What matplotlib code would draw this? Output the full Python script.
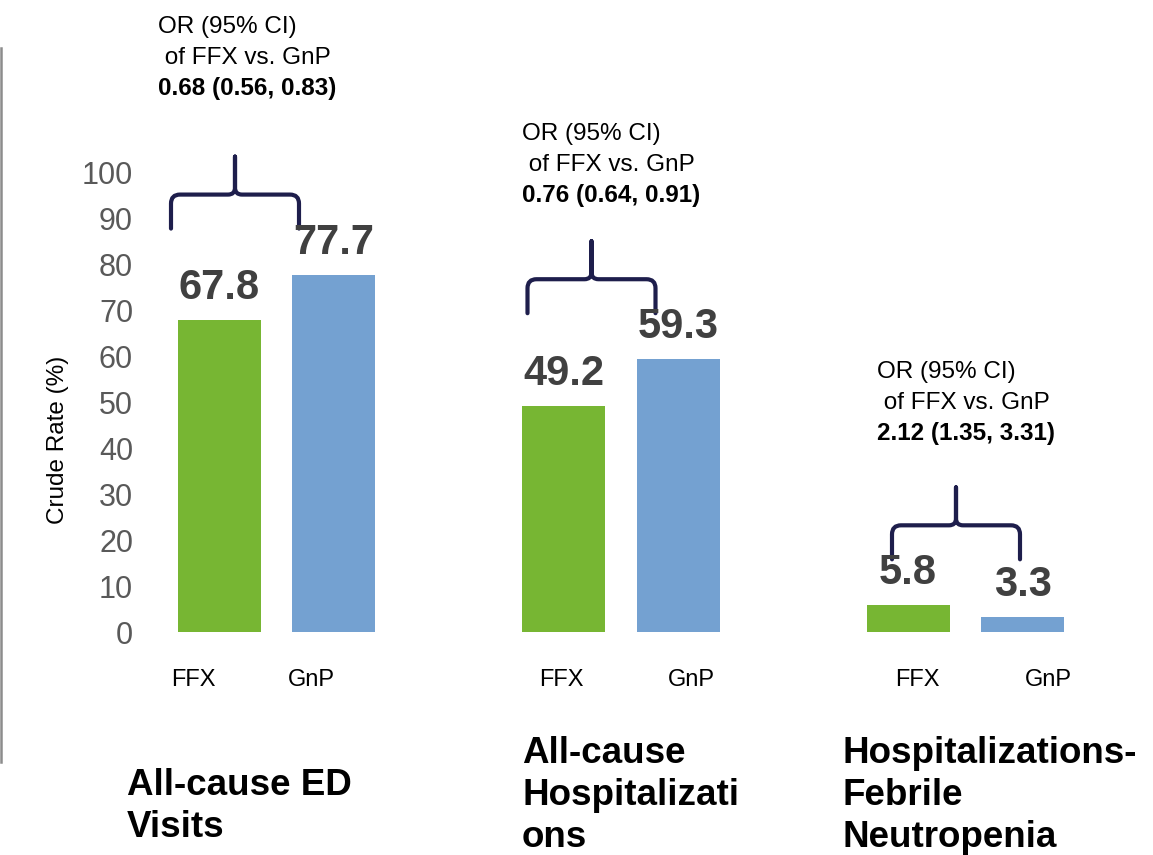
import numpy as np
import matplotlib
matplotlib.use('Agg')
import matplotlib.pyplot as plt
from matplotlib.path import Path
from matplotlib.patches import PathPatch
from matplotlib.lines import Line2D

plt.rcParams['font.family'] = ['Liberation Sans', 'DejaVu Sans']

# crude rates (%) per outcome and treatment arm
groups = ['All-cause ED\nVisits', 'All-cause\nHospitalizati\nons',
          'Hospitalizations-\nFebrile\nNeutropenia']
arms = ['FFX', 'GnP']
ffx_rate = [67.8, 49.2, 5.8]
gnp_rate = [77.7, 59.3, 3.3]
# odds ratio of FFX vs. GnP with 95% CI
odds_ratio = [0.68, 0.76, 2.12]
ci_low = [0.56, 0.64, 1.35]
ci_high = [0.83, 0.91, 3.31]

GREEN = '#77B633'
BLUE = '#74A1D1'
BRACE = '#1E1E4C'
VALUE_GRAY = '#404040'
TICK_GRAY = '#595959'

W, H = 1153, 855
fig = plt.figure(figsize=(W / 100, H / 100), dpi=100)

# plot box: x from 140px to the right edge, y=0 at 632px and y=100 at 172px
ax = fig.add_axes([140 / W, (H - 632) / H, (W - 140) / W, 460 / H])
px_x = 344.5 / 3   # pixels per x unit
px_y = 4.6         # pixels per percent
x_left = (140 - 276.5) / px_x
ax.set_xlim(x_left, x_left + (W - 140) / px_x)
ax.set_ylim(0, 100)

centers = np.arange(len(groups)) * 3.0
bar_w = 83 / px_x
ax.bar(centers - 0.5, ffx_rate, width=bar_w, color=GREEN)
ax.bar(centers + 0.5, gnp_rate, width=bar_w, color=BLUE)

# value labels on top of the bars
for xs, vals in ((centers - 0.5, ffx_rate), (centers + 0.5, gnp_rate)):
    for x, v in zip(xs, vals):
        ax.annotate(f'{v:.1f}', (x, v), xytext=(0, 15), textcoords='offset points',
                    ha='center', va='baseline', fontsize=30, fontweight='bold',
                    color=VALUE_GRAY)


def brace_path(xc, yb, half_w=64, h1=34, h2=72, r=9, s=7):
    '''Curly brace opening downwards; sizes are given in pixels.'''
    def pt(dx, dy):
        return (xc + dx / px_x, yb + dy / px_y)
    verts, codes = [], []
    for sign in (-1, 1):
        verts += [pt(sign * half_w, 0), pt(sign * half_w, h1 - r),
                  pt(sign * half_w, h1), pt(sign * (half_w - r), h1),
                  pt(sign * s, h1), pt(0, h1), pt(0, h1 + s), pt(0, h2)]
        codes += [Path.MOVETO, Path.LINETO, Path.CURVE3, Path.CURVE3,
                  Path.LINETO, Path.CURVE3, Path.CURVE3, Path.LINETO]
    return Path(verts, codes)


brace_shift = [-41.5, -29.5, -9.5]      # px from group centre
or_dx = [-1.032, -0.862, -0.771]        # x units from group centre
or_y = [130.2, 107.0, 55.2]             # baseline of first line
label_shift = [(-25.6, -23), (-2.6, 13), (9, 25)]
title_dx = [-1.302, -0.862, -1.075]
title_y = [-35.4, -28.5, -28.5]

for i, c in enumerate(centers):
    top = max(ffx_rate[i], gnp_rate[i])
    ax.add_patch(PathPatch(brace_path(c + brace_shift[i] / px_x, top + 10),
                           fill=False, edgecolor=BRACE, lw=3,
                           capstyle='round', joinstyle='round', clip_on=False))

    lines = ['OR (95% CI)', ' of FFX vs. GnP',
             f'{odds_ratio[i]:.2f} ({ci_low[i]:.2f}, {ci_high[i]:.2f})']
    for k, line in enumerate(lines):
        ax.text(c + or_dx[i], or_y[i] - k * 31 / px_y, line, fontsize=17.5,
                fontweight='bold' if k == 2 else 'normal',
                ha='left', va='baseline', color='black')

    for j, arm in enumerate(arms):
        x = c + (j - 0.5) + label_shift[i][j] / px_x
        ax.text(x, -54 / px_y, arm, fontsize=17, ha='center', va='baseline')

    for k, line in enumerate(groups[i].split('\n')):
        ax.text(c + title_dx[i], title_y[i] - k * 42 / px_y, line,
                fontsize=26.5, fontweight='bold', ha='left', va='baseline')

ax.set_yticks(range(0, 101, 10))
ax.set_xticks([])
ax.tick_params(axis='y', length=0, pad=5, labelsize=22, labelcolor=TICK_GRAY)
for sp in ax.spines.values():
    sp.set_visible(False)

ax.set_ylabel('Crude Rate (%)', fontsize=17.5)
ax.yaxis.label.set_va('center')
ax.yaxis.set_label_coords((58 - 140) / (W - 140), (632 - 440) / 460)

# thin grey rule along the left edge
fig.add_artist(Line2D([1.2 / W, 1.2 / W], [1 - 48 / H, 1 - 762 / H],
                      transform=fig.transFigure, color='#8C8C8C', lw=1.8))

fig.savefig('out.png', dpi=100)
